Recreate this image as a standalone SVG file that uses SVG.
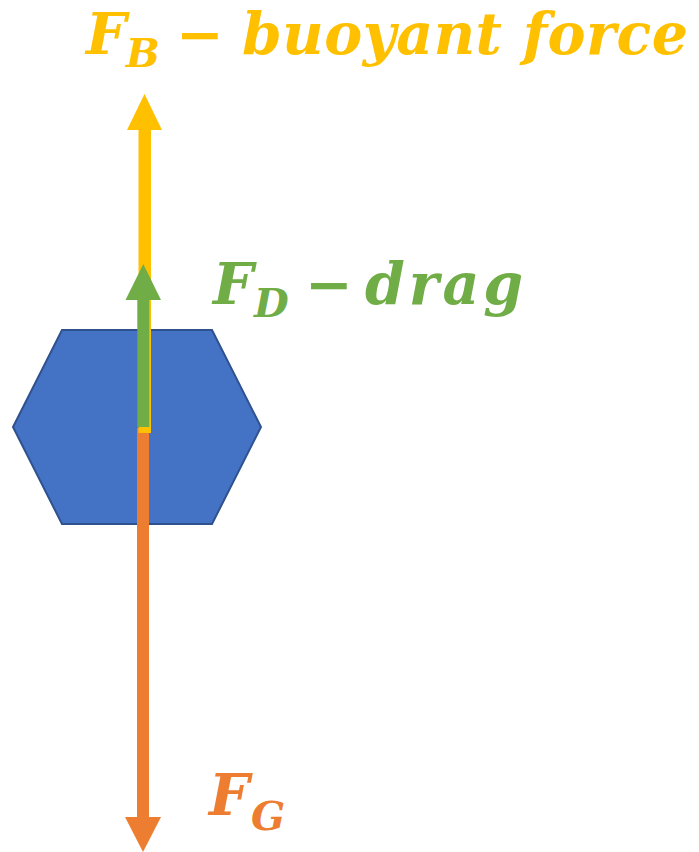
<svg xmlns="http://www.w3.org/2000/svg" width="699" height="852" viewBox="0 0 699 852">
<style>
.t{font-family:"DejaVu Serif","Liberation Serif",serif;font-weight:bold;font-style:italic}
.m{font-size:57px}
.s{font-size:40px}
.y{fill:#FFC000}
.g{fill:#70AD47}
.o{fill:#ED7D31}
</style>
<rect width="699" height="852" fill="#FFFFFF"/>
<g id="hexagon">
<polygon points="62,330 212,330 261,427 212,524 62,524 13,427" fill="#4472C4" stroke="#2F528F" stroke-width="2"/>
</g>
<g id="connectors">
<g id="gravity-arrow" class="o">
<rect x="137" y="428" width="12" height="390"/>
<polygon points="125,817 161,817 143,852"/>
</g>
<g id="buoyant-arrow" class="y">
<rect x="138.5" y="129" width="12.5" height="304"/>
<polygon points="144.5,94 162,130 127,130"/>
</g>
<g id="drag-arrow" class="g">
<rect x="137.3" y="299" width="12" height="128"/>
<polygon points="143.3,264 161,300 125.5,300"/>
</g>
</g>
<g id="label-buoyant" class="t y">
<text class="m" x="86" y="54">F</text>
<text class="s" x="126" y="67">B</text>
<text class="m" x="200" y="54" text-anchor="middle">−</text>
<text class="m" x="242" y="54" textLength="446" lengthAdjust="spacing">buoyant force</text>
</g>
<g id="label-drag" class="t g">
<text class="m" x="213" y="304">F</text>
<text class="s" x="254" y="317">D</text>
<text class="m" x="329" y="304" text-anchor="middle">−</text>
<text class="m" x="365" y="304" textLength="158" lengthAdjust="spacing">drag</text>
</g>
<g id="label-gravity" class="t o">
<text class="m" x="209" y="815">F</text>
<text class="s" x="251" y="830">G</text>
</g>
</svg>
